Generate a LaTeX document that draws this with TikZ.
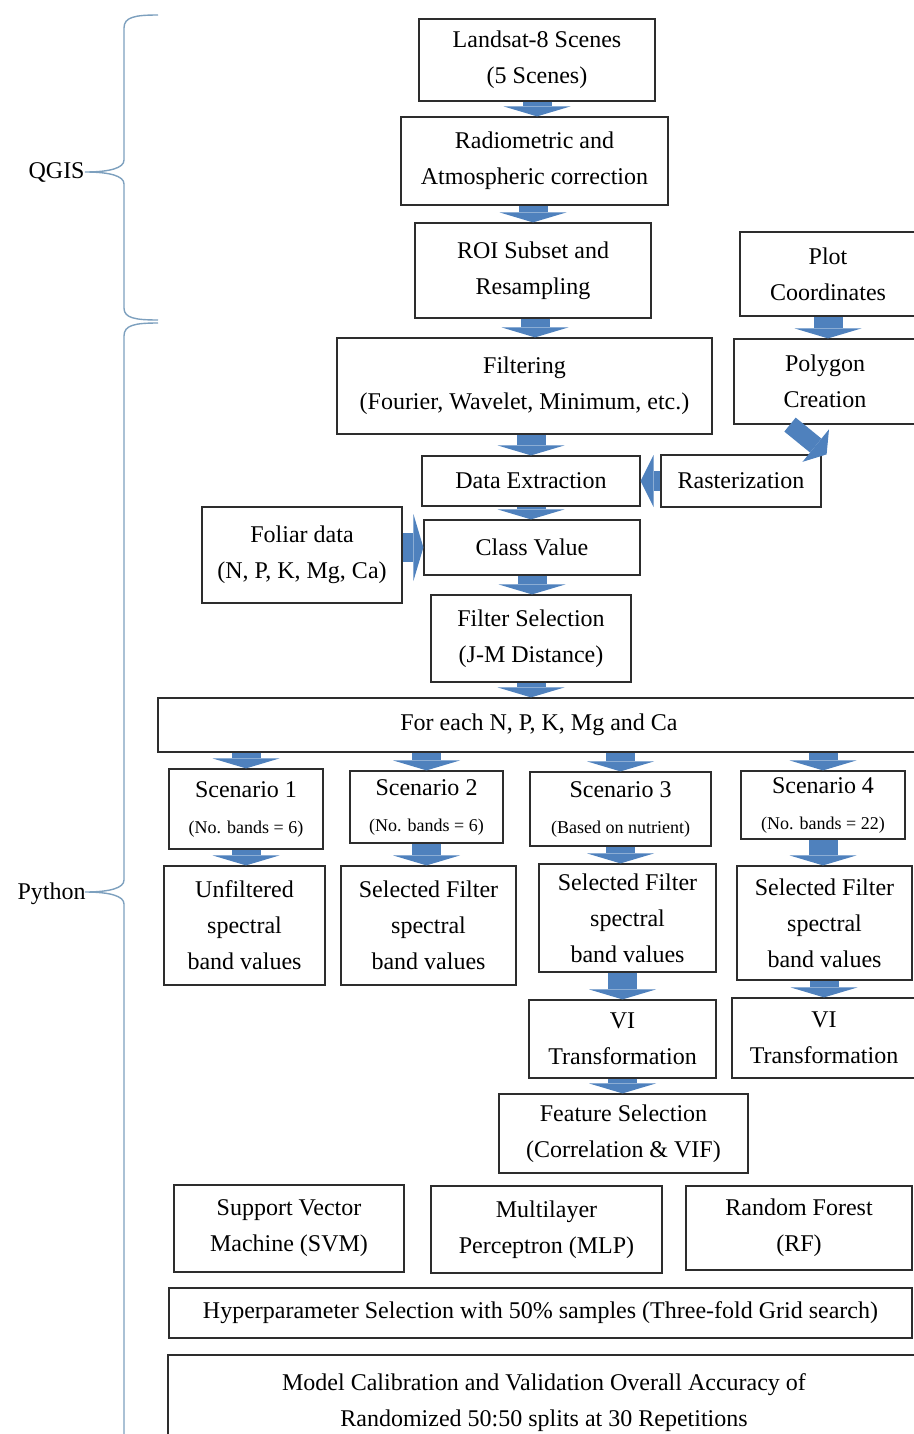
\documentclass[tikz,border=0pt]{standalone}
\usepackage{fontspec}
\setmainfont{Liberation Serif}
\usetikzlibrary{arrows.meta}
\definecolor{arrowblue}{RGB}{79,129,189}
\definecolor{bracegray}{RGB}{125,160,190}
\definecolor{boxgray}{RGB}{45,45,45}
\newcommand\subnote[1]{{\fontsize{9}{18}\selectfont #1}}
\tikzset{
    flowbox/.style={draw=boxgray, line width=0.6pt, align=center, inner sep=0pt, font=\fontsize{12}{18}\selectfont},
    blockarrow/.style={arrowblue, line width=14.5pt, -{Triangle[width=33.5pt,length=5pt,line width=0pt]}},
    thinarrow/.style={arrowblue, line width=10pt, -{Triangle[width=26pt,length=6.5pt,line width=0pt]}},
    diagarrow/.style={arrowblue, line width=9pt, -{Triangle[width=21pt,length=7pt,line width=0pt]}},
    bracepath/.style={bracegray, line width=0.7pt},
    bracelabel/.style={anchor=east, inner sep=0pt, font=\fontsize{12}{18}\selectfont}
}

\begin{document}
\begin{tikzpicture}[x=0.5pt,y=-0.5pt]
    \useasboundingbox (0,0) rectangle (914,1434);
    \clip (0,0) rectangle (914,1434);
    \node[flowbox, minimum width=118pt, minimum height=41pt] (landsat) at (537,60) {Landsat-8 Scenes\\(5 Scenes)};
    \node[flowbox, minimum width=133.5pt, minimum height=44pt] (radiocorr) at (534.5,161) {Radiometric and\\Atmospheric correction};
    \node[flowbox, minimum width=118pt, minimum height=47.5pt] (roisub) at (533,270.5) {ROI Subset and\\Resampling};
    \node[flowbox, minimum width=187.5pt, minimum height=48pt] (filtering) at (524.5,386) {Filtering\\(Fourier, Wavelet, Minimum, etc.)};
    \node[flowbox, minimum width=88pt, minimum height=42pt] (plotcoord) at (828,274) {Plot\\Coordinates};
    \node[flowbox, minimum width=91pt, minimum height=42.5pt] (polygon) at (825,381.5) {Polygon\\Creation};
    \node[flowbox, minimum width=109pt, minimum height=25pt] (dataext) at (531,481) {Data Extraction};
    \node[flowbox, minimum width=80pt, minimum height=26pt] (raster) at (741,481) {Rasterization};
    \node[flowbox, minimum width=108pt, minimum height=27.5pt] (classval) at (532,547.5) {Class Value};
    \node[flowbox, minimum width=100pt, minimum height=48pt] (foliar) at (302,555) {Foliar data\\(N, P, K, Mg, Ca)};
    \node[flowbox, minimum width=100pt, minimum height=43.5pt] (filtsel) at (531,638.5) {Filter Selection\\(J-M Distance)};
    \node[flowbox, minimum width=381pt, minimum height=27pt] (foreach) at (539,725) {For each N, P, K, Mg and Ca};
    \node[flowbox, minimum width=77pt, minimum height=40pt] (scen1) at (246,809) {Scenario 1\\\subnote{(No. bands = 6)}};
    \node[flowbox, minimum width=76.5pt, minimum height=36pt] (scen2) at (426.5,807) {Scenario 2\\\subnote{(No. bands = 6)}};
    \node[flowbox, minimum width=90.5pt, minimum height=37pt] (scen3) at (620.5,809) {Scenario 3\\\subnote{(Based on nutrient)}};
    \node[flowbox, minimum width=82pt, minimum height=34pt] (scen4) at (823,805) {Scenario 4\\\subnote{(No. bands = 22)}};
    \node[flowbox, minimum width=80.5pt, minimum height=59.5pt] (unfilt) at (244.5,925.5) {Unfiltered\\spectral\\band values};
    \node[flowbox, minimum width=87.5pt, minimum height=59.5pt] (selfilt2) at (428.5,925.5) {Selected Filter\\spectral\\band values};
    \node[flowbox, minimum width=88.5pt, minimum height=54pt] (selfilt3) at (627.5,918) {Selected Filter\\spectral\\band values};
    \node[flowbox, minimum width=87.5pt, minimum height=57pt] (selfilt4) at (824.5,923) {Selected Filter\\spectral\\band values};
    \node[flowbox, minimum width=93.5pt, minimum height=39pt] (vitrans3) at (622.5,1039) {VI\\Transformation};
    \node[flowbox, minimum width=92pt, minimum height=40pt] (vitrans4) at (824,1038) {VI\\Transformation};
    \node[flowbox, minimum width=124.5pt, minimum height=39.5pt] (featsel) at (623.5,1133.5) {Feature Selection\\(Correlation \& VIF)};
    \node[flowbox, minimum width=115pt, minimum height=43.5pt] (svm) at (289,1228.5) {Support Vector\\Machine (SVM)};
    \node[flowbox, minimum width=115.5pt, minimum height=43.5pt] (mlp) at (546.5,1229.5) {Multilayer\\Perceptron (MLP)};
    \node[flowbox, minimum width=113pt, minimum height=42pt] (rf) at (799,1228) {Random Forest\\(RF)};
    \node[flowbox, minimum width=371.5pt, minimum height=25pt] (hyper) at (540.5,1313) {Hyperparameter Selection with 50\% samples (Three-fold Grid search)};
    \node[flowbox, minimum width=376pt, minimum height=47.5pt] (modelcal) at (544,1402.5) {Model Calibration and Validation Overall Accuracy of\\Randomized 50:50 splits at 30 Repetitions};
    \draw[blockarrow] (landsat.south) -- (landsat.south |- radiocorr.north);
    \draw[blockarrow] (roisub.north |- radiocorr.south) -- (roisub.north);
    \draw[blockarrow] ([xshift=1pt]roisub.south) -- ([xshift=1pt]roisub.south |- filtering.north);
    \draw[blockarrow] (dataext.north |- filtering.south) -- (dataext.north);
    \draw[blockarrow] (dataext.south) -- (dataext.south |- classval.north);
    \draw[blockarrow] (classval.south) -- (classval.south |- filtsel.north);
    \draw[blockarrow] (filtsel.south) -- (filtsel.south |- foreach.north);
    \draw[blockarrow] (plotcoord.south) -- (plotcoord.south |- polygon.north);
    \coordinate (polyout) at ([xshift=-17.5pt]polygon.south);
    \coordinate (rasterin) at ([xshift=2.5pt]raster.north east);
    \draw[diagarrow] (polyout) -- (rasterin);
    \draw[thinarrow] (raster.west) -- (dataext.east);
    \draw[blockarrow] (foliar.east |- classval.west) -- (classval.west);
    \foreach \s/\v in {scen1/unfilt,scen2/selfilt2,scen3/selfilt3,scen4/selfilt4}
    {
        \draw[blockarrow] (\s.north |- foreach.south) -- (\s.north);
        \draw[blockarrow] (\s.south) -- (\s.south |- \v.north);
    }
    \draw[blockarrow] (vitrans3.north |- selfilt3.south) -- (vitrans3.north);
    \draw[blockarrow] (vitrans4.north |- selfilt4.south) -- (vitrans4.north);
    \draw[blockarrow] (vitrans3.south) -- (vitrans3.south |- featsel.north);
    \draw[bracepath] (158,15) .. controls (135,15) and (124,17) .. (124,28) -- (124,160) .. controls (124,168) and (110,172) .. (85,172) .. controls (110,172) and (124,176) .. (124,184) -- (124,308) .. controls (124,318) and (135,320) .. (158,320);
    \draw[bracepath] (158,323) .. controls (135,323) and (124,325) .. (124,336) -- (124,880) .. controls (124,888) and (110,892) .. (85,892) .. controls (110,892) and (124,896) .. (124,904) -- (124,1450);
    \node[bracelabel] (qgis) at (85,172) {QGIS};
    \node[bracelabel] (python) at (86,894) {Python};
\end{tikzpicture}
\end{document}
